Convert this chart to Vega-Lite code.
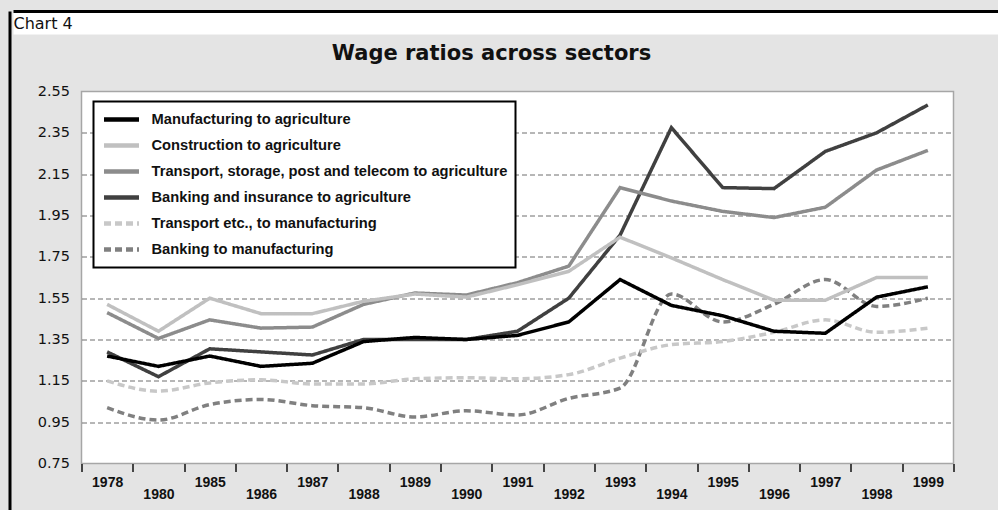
{
  "$schema": "https://vega.github.io/schema/vega-lite/v6.json",
  "background": "#e4e4e4",
  "padding": {"left": 8.5, "top": 9.5, "right": 0, "bottom": 0},
  "spacing": 0,
  "resolve": {"legend": {"color": "independent", "strokeDash": "independent"}},
  "hconcat": [
    {
      "width": 3,
      "height": 499,
      "view": {"fill": "black", "stroke": null},
      "data": {"values": []},
      "mark": "point"
    },
    {
      "spacing": 5,
      "resolve": {"legend": {"color": "independent", "strokeDash": "independent"}},
      "vconcat": [
        {
          "width": 985,
          "height": 23,
          "view": {"fill": "white", "stroke": "black", "strokeWidth": 3, "strokeDash": [985, 3000]},
          "data": {"values": [{"t": "Chart 4"}]},
          "mark": {"type": "text", "align": "left", "baseline": "middle", "font": "DejaVu Sans", "fontSize": 16, "color": "#111111", "dx": 0, "dy": 1},
          "encoding": {
            "text": {"field": "t"},
            "x": {"datum": 0, "type": "quantitative", "scale": {"domain": [0, 1]}, "axis": null}
          }
        },
        {
          "spacing": 0,
          "resolve": {"legend": {"color": "independent", "strokeDash": "independent"}},
          "hconcat": [
            {
              "width": 1,
              "height": 1,
              "view": {"stroke": null},
              "data": {"values": []},
              "mark": "point"
            },
            {
              "width": 872,
              "height": 372,
              "title": {"text": "Wage ratios across sectors", "font": "DejaVu Sans", "fontSize": 21, "fontWeight": "bold", "color": "#111111", "offset": 20, "frame": "group", "anchor": "middle", "dx": -26},
              "view": {"fill": "white", "stroke": "#a6a6a6", "strokeWidth": 1.5},
              "data": {"values": [
                {"year": "1978", "s": "Banking and insurance to agriculture", "v": 1.29},
                {"year": "1978", "s": "Transport, storage, post and telecom to agriculture", "v": 1.48},
                {"year": "1978", "s": "Construction to agriculture", "v": 1.52},
                {"year": "1978", "s": "Banking to manufacturing", "v": 1.02},
                {"year": "1978", "s": "Transport etc., to manufacturing", "v": 1.15},
                {"year": "1978", "s": "Manufacturing to agriculture", "v": 1.27},
                {"year": "1980", "s": "Banking and insurance to agriculture", "v": 1.17},
                {"year": "1980", "s": "Transport, storage, post and telecom to agriculture", "v": 1.355},
                {"year": "1980", "s": "Construction to agriculture", "v": 1.39},
                {"year": "1980", "s": "Banking to manufacturing", "v": 0.96},
                {"year": "1980", "s": "Transport etc., to manufacturing", "v": 1.1},
                {"year": "1980", "s": "Manufacturing to agriculture", "v": 1.22},
                {"year": "1985", "s": "Banking and insurance to agriculture", "v": 1.305},
                {"year": "1985", "s": "Transport, storage, post and telecom to agriculture", "v": 1.445},
                {"year": "1985", "s": "Construction to agriculture", "v": 1.55},
                {"year": "1985", "s": "Banking to manufacturing", "v": 1.035},
                {"year": "1985", "s": "Transport etc., to manufacturing", "v": 1.14},
                {"year": "1985", "s": "Manufacturing to agriculture", "v": 1.27},
                {"year": "1986", "s": "Banking and insurance to agriculture", "v": 1.29},
                {"year": "1986", "s": "Transport, storage, post and telecom to agriculture", "v": 1.405},
                {"year": "1986", "s": "Construction to agriculture", "v": 1.475},
                {"year": "1986", "s": "Banking to manufacturing", "v": 1.06},
                {"year": "1986", "s": "Transport etc., to manufacturing", "v": 1.155},
                {"year": "1986", "s": "Manufacturing to agriculture", "v": 1.22},
                {"year": "1987", "s": "Banking and insurance to agriculture", "v": 1.275},
                {"year": "1987", "s": "Transport, storage, post and telecom to agriculture", "v": 1.41},
                {"year": "1987", "s": "Construction to agriculture", "v": 1.475},
                {"year": "1987", "s": "Banking to manufacturing", "v": 1.03},
                {"year": "1987", "s": "Transport etc., to manufacturing", "v": 1.135},
                {"year": "1987", "s": "Manufacturing to agriculture", "v": 1.235},
                {"year": "1988", "s": "Banking and insurance to agriculture", "v": 1.35},
                {"year": "1988", "s": "Transport, storage, post and telecom to agriculture", "v": 1.52},
                {"year": "1988", "s": "Construction to agriculture", "v": 1.535},
                {"year": "1988", "s": "Banking to manufacturing", "v": 1.02},
                {"year": "1988", "s": "Transport etc., to manufacturing", "v": 1.135},
                {"year": "1988", "s": "Manufacturing to agriculture", "v": 1.34},
                {"year": "1989", "s": "Banking and insurance to agriculture", "v": 1.35},
                {"year": "1989", "s": "Transport, storage, post and telecom to agriculture", "v": 1.575},
                {"year": "1989", "s": "Construction to agriculture", "v": 1.57},
                {"year": "1989", "s": "Banking to manufacturing", "v": 0.975},
                {"year": "1989", "s": "Transport etc., to manufacturing", "v": 1.16},
                {"year": "1989", "s": "Manufacturing to agriculture", "v": 1.36},
                {"year": "1990", "s": "Banking and insurance to agriculture", "v": 1.35},
                {"year": "1990", "s": "Transport, storage, post and telecom to agriculture", "v": 1.565},
                {"year": "1990", "s": "Construction to agriculture", "v": 1.555},
                {"year": "1990", "s": "Banking to manufacturing", "v": 1.005},
                {"year": "1990", "s": "Transport etc., to manufacturing", "v": 1.165},
                {"year": "1990", "s": "Manufacturing to agriculture", "v": 1.35},
                {"year": "1991", "s": "Banking and insurance to agriculture", "v": 1.39},
                {"year": "1991", "s": "Transport, storage, post and telecom to agriculture", "v": 1.625},
                {"year": "1991", "s": "Construction to agriculture", "v": 1.615},
                {"year": "1991", "s": "Banking to manufacturing", "v": 0.985},
                {"year": "1991", "s": "Transport etc., to manufacturing", "v": 1.16},
                {"year": "1991", "s": "Manufacturing to agriculture", "v": 1.37},
                {"year": "1992", "s": "Banking and insurance to agriculture", "v": 1.55},
                {"year": "1992", "s": "Transport, storage, post and telecom to agriculture", "v": 1.705},
                {"year": "1992", "s": "Construction to agriculture", "v": 1.68},
                {"year": "1992", "s": "Banking to manufacturing", "v": 1.065},
                {"year": "1992", "s": "Transport etc., to manufacturing", "v": 1.18},
                {"year": "1992", "s": "Manufacturing to agriculture", "v": 1.435},
                {"year": "1993", "s": "Banking and insurance to agriculture", "v": 1.855},
                {"year": "1993", "s": "Transport, storage, post and telecom to agriculture", "v": 2.085},
                {"year": "1993", "s": "Construction to agriculture", "v": 1.845},
                {"year": "1993", "s": "Banking to manufacturing", "v": 1.115},
                {"year": "1993", "s": "Transport etc., to manufacturing", "v": 1.26},
                {"year": "1993", "s": "Manufacturing to agriculture", "v": 1.64},
                {"year": "1994", "s": "Banking and insurance to agriculture", "v": 2.375},
                {"year": "1994", "s": "Transport, storage, post and telecom to agriculture", "v": 2.02},
                {"year": "1994", "s": "Construction to agriculture", "v": 1.745},
                {"year": "1994", "s": "Banking to manufacturing", "v": 1.57},
                {"year": "1994", "s": "Transport etc., to manufacturing", "v": 1.325},
                {"year": "1994", "s": "Manufacturing to agriculture", "v": 1.515},
                {"year": "1995", "s": "Banking and insurance to agriculture", "v": 2.085},
                {"year": "1995", "s": "Transport, storage, post and telecom to agriculture", "v": 1.97},
                {"year": "1995", "s": "Construction to agriculture", "v": 1.64},
                {"year": "1995", "s": "Banking to manufacturing", "v": 1.435},
                {"year": "1995", "s": "Transport etc., to manufacturing", "v": 1.34},
                {"year": "1995", "s": "Manufacturing to agriculture", "v": 1.465},
                {"year": "1996", "s": "Banking and insurance to agriculture", "v": 2.08},
                {"year": "1996", "s": "Transport, storage, post and telecom to agriculture", "v": 1.94},
                {"year": "1996", "s": "Construction to agriculture", "v": 1.54},
                {"year": "1996", "s": "Banking to manufacturing", "v": 1.52},
                {"year": "1996", "s": "Transport etc., to manufacturing", "v": 1.385},
                {"year": "1996", "s": "Manufacturing to agriculture", "v": 1.39},
                {"year": "1997", "s": "Banking and insurance to agriculture", "v": 2.26},
                {"year": "1997", "s": "Transport, storage, post and telecom to agriculture", "v": 1.99},
                {"year": "1997", "s": "Construction to agriculture", "v": 1.54},
                {"year": "1997", "s": "Banking to manufacturing", "v": 1.64},
                {"year": "1997", "s": "Transport etc., to manufacturing", "v": 1.445},
                {"year": "1997", "s": "Manufacturing to agriculture", "v": 1.38},
                {"year": "1998", "s": "Banking and insurance to agriculture", "v": 2.35},
                {"year": "1998", "s": "Transport, storage, post and telecom to agriculture", "v": 2.17},
                {"year": "1998", "s": "Construction to agriculture", "v": 1.65},
                {"year": "1998", "s": "Banking to manufacturing", "v": 1.51},
                {"year": "1998", "s": "Transport etc., to manufacturing", "v": 1.385},
                {"year": "1998", "s": "Manufacturing to agriculture", "v": 1.555},
                {"year": "1999", "s": "Banking and insurance to agriculture", "v": 2.485},
                {"year": "1999", "s": "Transport, storage, post and telecom to agriculture", "v": 2.265},
                {"year": "1999", "s": "Construction to agriculture", "v": 1.65},
                {"year": "1999", "s": "Banking to manufacturing", "v": 1.55},
                {"year": "1999", "s": "Transport etc., to manufacturing", "v": 1.405},
                {"year": "1999", "s": "Manufacturing to agriculture", "v": 1.605}
              ]},
              "encoding": {
                "x": {
                  "field": "year", "type": "ordinal", "sort": null,
                  "scale": {"type": "band", "paddingInner": 0, "paddingOuter": 0},
                  "axis": {
                    "title": null, "labelAngle": 0, "domain": false, "grid": false,
                    "tickBand": "extent", "tickSize": 8, "tickColor": "#111111", "tickWidth": 1.5,
                    "labelFont": "Liberation Sans", "labelFontSize": 14, "labelFontWeight": "bold", "labelColor": "#111111",
                    "labelPadding": {"condition": {"test": "indexof(['1980','1986','1988','1990','1992','1994','1996','1998'], datum.value) >= 0", "value": 16}, "value": 4}
                  }
                },
                "y": {
                  "field": "v", "type": "quantitative",
                  "scale": {"domain": [0.75, 2.55], "nice": false, "zero": false},
                  "axis": {
                    "title": null, "values": [0.75, 0.95, 1.15, 1.35, 1.55, 1.75, 1.95, 2.15, 2.35, 2.55], "format": ".2f",
                    "domain": false, "ticks": false, "labelPadding": 12, "minExtent": 66,
                    "labelFont": "DejaVu Sans", "labelFontSize": 14.5, "labelColor": "#111111",
                    "grid": true, "gridColor": "#6e6e6e", "gridDash": [5, 3], "gridWidth": 1,
                    "gridOpacity": {"condition": {"test": "datum.value < 0.8 || datum.value > 2.5", "value": 0}, "value": 1}
                  }
                },
                "color": {
                  "field": "s", "type": "nominal",
                  "scale": {
                    "domain": ["Manufacturing to agriculture", "Construction to agriculture", "Transport, storage, post and telecom to agriculture", "Banking and insurance to agriculture", "Transport etc., to manufacturing", "Banking to manufacturing"],
                    "range": ["#000000", "#c0c0c0", "#8c8c8c", "#404040", "#c8c8c8", "#808080"]
                  },
                  "legend": {
                    "title": null, "orient": "none", "legendX": 12, "legendY": 10,
                    "fillColor": "white", "strokeColor": "#000000", "padding": 8,
                    "symbolType": "stroke", "symbolSize": 1225, "symbolStrokeWidth": 4.5, "clipHeight": 20, "rowPadding": 6,
                    "labelFont": "Liberation Sans", "labelFontSize": 14.7, "labelFontWeight": "bold", "labelColor": "#111111", "labelOffset": 10, "labelLimit": 600
                  }
                },
                "strokeDash": {
                  "field": "s", "type": "nominal",
                  "scale": {
                    "domain": ["Manufacturing to agriculture", "Construction to agriculture", "Transport, storage, post and telecom to agriculture", "Banking and insurance to agriculture", "Transport etc., to manufacturing", "Banking to manufacturing"],
                    "range": [[1, 0], [1, 0], [1, 0], [1, 0], [7, 4], [7, 4]]
                  },
                  "legend": {
                    "title": null, "orient": "none", "legendX": 12, "legendY": 10,
                    "fillColor": "white", "strokeColor": "#000000", "padding": 8,
                    "symbolType": "stroke", "symbolSize": 1225, "symbolStrokeWidth": 4.5, "clipHeight": 20, "rowPadding": 6,
                    "labelFont": "Liberation Sans", "labelFontSize": 14.7, "labelFontWeight": "bold", "labelColor": "#111111", "labelOffset": 10, "labelLimit": 600
                  }
                }
              },
              "layer": [
                {
                  "transform": [{"filter": {"field": "s", "oneOf": ["Transport etc., to manufacturing", "Banking to manufacturing"]}}],
                  "mark": {"type": "line", "strokeWidth": 3.5, "interpolate": "monotone"}
                },
                {
                  "transform": [{"filter": {"not": {"field": "s", "oneOf": ["Transport etc., to manufacturing", "Banking to manufacturing"]}}}],
                  "mark": {"type": "line", "strokeWidth": 3.5}
                }
              ]
            }
          ]
        }
      ]
    }
  ],
  "config": {
    "legend": {"strokeWidth": 2}
  }
}
